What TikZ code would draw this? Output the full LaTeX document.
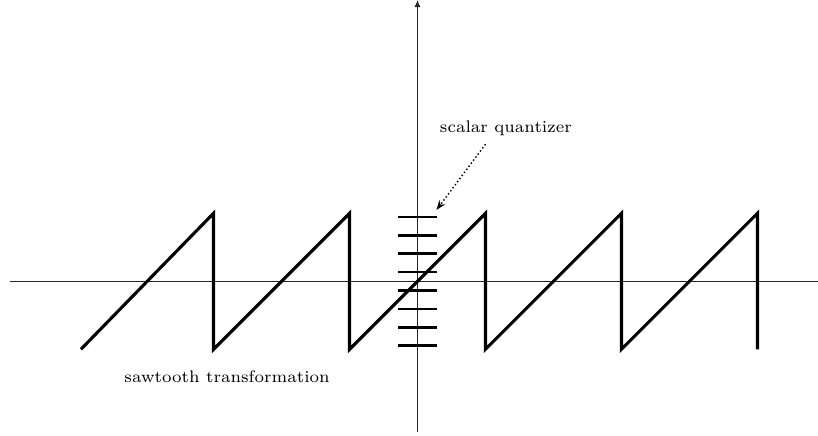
\documentclass[tikz,border=0pt]{standalone}
\usepackage{tikz}
\usetikzlibrary{positioning,calc,arrows.meta}

\begin{document}
\begin{tikzpicture}[
    every node/.style={font=\fontsize{7}{8.5}\selectfont},
    axis/.style={line width=0.45pt, black!85},
    saw/.style={line width=1.3pt, black},
    level/.style={line width=1.1pt, black},
    note/.style={densely dotted, line width=0.6pt, -{Stealth[length=4pt,width=3pt]}},
]
\useasboundingbox (-6.14,-2.275) rectangle (5.89,4.137);

% =====================================================================
% Axes
% =====================================================================
\draw[axis] (-6.0,0) -- (5.89,0);
\draw[axis, -{Latex[length=3pt,width=2.6pt]}] (0,-2.216) -- (0,4.137);

% =====================================================================
% Sawtooth transformation
% =====================================================================
\draw[saw] (-4.95,-1) -- (-3,1) -- (-3,-1) -- (-1,1) -- (-1,-1) -- (1,1)
    -- (1,-1) -- (3,1) -- (3,-1) -- (5,1) -- (5,-1);
\node (saw) at (-2.80,-1.41) {sawtooth transformation};

% =====================================================================
% Scalar quantizer levels on the vertical axis
% =====================================================================
\draw[level] (-0.28,0.945) -- (0.28,0.945)
             (-0.28,0.675) -- (0.28,0.675)
             (-0.28,0.405) -- (0.28,0.405)
             (-0.28,0.135) -- (0.28,0.135)
             (-0.28,-0.135) -- (0.28,-0.135)
             (-0.28,-0.405) -- (0.28,-0.405)
             (-0.28,-0.675) -- (0.28,-0.675)
             (-0.28,-0.945) -- (0.28,-0.945);
\coordinate (qtop) at (0.28,1.05);

% Label with dotted pointer to the top level
\node (quant) at (1.30,2.25) {scalar quantizer};
\draw[note] ([xshift=-0.3cm]quant.south) -- (qtop);

\end{tikzpicture}
\end{document}
